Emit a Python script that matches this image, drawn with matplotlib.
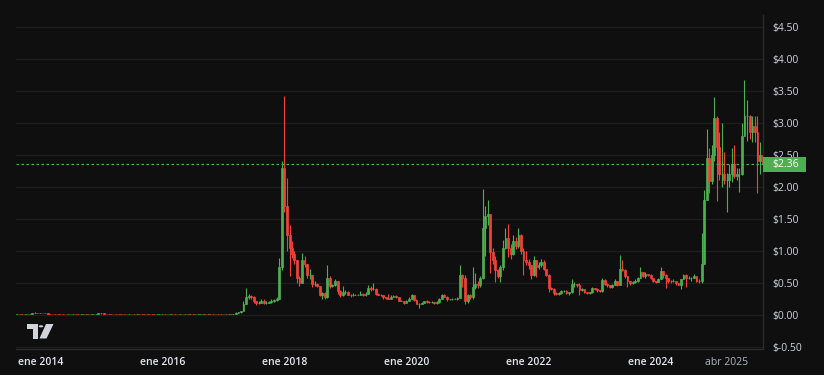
import numpy as np
import pandas as pd
import matplotlib
matplotlib.use('Agg')
from matplotlib import pyplot as plt
import matplotlib.dates as mdates
from matplotlib.patches import Polygon, Rectangle, Circle

# semi-monthly candles, Aug 2013 .. Nov 2025 (one row per year)
close = [
   0.0055, 0.0060, 0.0058, 0.0055, 0.0060, 0.0085, 0.012, 0.025, 0.030, 0.024,
   0.025, 0.025, 0.020, 0.017, 0.015, 0.013, 0.010, 0.0065, 0.0060, 0.0055, 0.0050, 0.0050,
   0.0055, 0.0060, 0.0055, 0.0050, 0.0050, 0.0060, 0.0070, 0.0058, 0.0060, 0.0080, 0.012, 0.024,
   0.020, 0.016, 0.014, 0.013, 0.012, 0.011, 0.010, 0.0085, 0.0080, 0.0075, 0.0085, 0.0095,
   0.0085, 0.0078, 0.0080, 0.0078, 0.0075, 0.0072, 0.0055, 0.0050, 0.0048, 0.0045, 0.0050, 0.0058,
   0.0060, 0.0058, 0.0075, 0.0085, 0.0080, 0.0070, 0.0068, 0.0070, 0.0062, 0.0065, 0.0062, 0.0064,
   0.0062, 0.0060, 0.0062, 0.0065, 0.0070, 0.0068, 0.0072, 0.0070, 0.0068, 0.0072, 0.0068, 0.0064,
   0.0065, 0.0063, 0.0063, 0.0060, 0.0075, 0.025, 0.035, 0.055, 0.17, 0.28, 0.29, 0.28,
   0.21, 0.19, 0.19, 0.22, 0.19, 0.19, 0.20, 0.21, 0.23, 0.25, 0.75, 2.30,
   1.70, 1.25, 1.05, 0.95, 0.85, 0.58, 0.50, 0.85, 0.80, 0.62, 0.62, 0.48,
   0.48, 0.45, 0.30, 0.34, 0.27, 0.58, 0.45, 0.46, 0.52, 0.37, 0.30, 0.35,
   0.36, 0.31, 0.30, 0.31, 0.31, 0.31, 0.33, 0.30, 0.33, 0.42, 0.40, 0.40,
   0.33, 0.31, 0.30, 0.27, 0.26, 0.25, 0.28, 0.29, 0.27, 0.22, 0.22, 0.19,
   0.22, 0.24, 0.30, 0.23, 0.17, 0.17, 0.18, 0.21, 0.20, 0.20, 0.20, 0.18,
   0.20, 0.25, 0.30, 0.28, 0.24, 0.24, 0.25, 0.25, 0.26, 0.62, 0.57, 0.22,
   0.30, 0.27, 0.43, 0.48, 0.46, 0.57, 1.35, 1.55, 1.58, 0.98, 0.85, 0.70,
   0.60, 0.75, 1.05, 1.20, 1.05, 0.95, 1.15, 1.08, 1.25, 1.00, 0.85, 0.83,
   0.78, 0.62, 0.85, 0.75, 0.78, 0.83, 0.72, 0.62, 0.42, 0.40, 0.34, 0.32,
   0.34, 0.37, 0.37, 0.34, 0.35, 0.48, 0.48, 0.46, 0.38, 0.40, 0.35, 0.34,
   0.35, 0.41, 0.40, 0.38, 0.37, 0.54, 0.48, 0.47, 0.43, 0.46, 0.52, 0.47,
   0.71, 0.70, 0.60, 0.52, 0.49, 0.51, 0.52, 0.57, 0.66, 0.61, 0.63, 0.62,
   0.57, 0.53, 0.51, 0.55, 0.68, 0.62, 0.57, 0.53, 0.52, 0.53, 0.49, 0.47,
   0.55, 0.62, 0.57, 0.57, 0.57, 0.61, 0.53, 0.52, 0.80, 1.80, 2.45, 2.09,
   2.50, 3.08, 2.62, 2.20, 2.20, 2.10, 2.10, 2.20, 2.35, 2.17, 2.20, 2.20,
   2.80, 3.10, 3.10, 2.85, 2.95, 2.85, 2.40, 2.50, 2.36,
]
high = [
   0.0060, 0.0065, 0.0062, 0.0060, 0.0065, 0.0095, 0.015, 0.030, 0.045, 0.032,
   0.028, 0.030, 0.026, 0.021, 0.018, 0.016, 0.013, 0.011, 0.0070, 0.0062, 0.0058, 0.0055,
   0.0058, 0.0065, 0.0062, 0.0057, 0.0055, 0.0065, 0.0075, 0.0072, 0.0065, 0.0090, 0.014, 0.030,
   0.026, 0.021, 0.017, 0.015, 0.014, 0.013, 0.012, 0.011, 0.0090, 0.0085, 0.0090, 0.011,
   0.0098, 0.0088, 0.0085, 0.0083, 0.0080, 0.0078, 0.0073, 0.0057, 0.0053, 0.0050, 0.0055, 0.0062,
   0.0064, 0.0063, 0.0080, 0.0092, 0.0088, 0.0082, 0.0072, 0.0073, 0.0071, 0.0068, 0.0066, 0.0067,
   0.0066, 0.0064, 0.0065, 0.0068, 0.0074, 0.0073, 0.0076, 0.0075, 0.0072, 0.0076, 0.0074, 0.0070,
   0.0070, 0.0068, 0.0066, 0.0065, 0.0090, 0.035, 0.040, 0.065, 0.22, 0.41, 0.33, 0.31,
   0.29, 0.22, 0.21, 0.25, 0.24, 0.22, 0.22, 0.24, 0.24, 0.27, 0.88, 2.40,
   3.41, 2.14, 1.40, 1.15, 1.00, 0.85, 0.60, 0.96, 0.92, 0.80, 0.72, 0.62,
   0.52, 0.50, 0.45, 0.36, 0.35, 0.77, 0.60, 0.48, 0.55, 0.53, 0.38, 0.45,
   0.39, 0.37, 0.32, 0.34, 0.32, 0.32, 0.37, 0.34, 0.36, 0.47, 0.45, 0.50,
   0.41, 0.34, 0.32, 0.30, 0.27, 0.32, 0.30, 0.31, 0.31, 0.27, 0.23, 0.22,
   0.23, 0.27, 0.33, 0.30, 0.25, 0.18, 0.20, 0.22, 0.23, 0.21, 0.21, 0.20,
   0.21, 0.26, 0.33, 0.32, 0.29, 0.25, 0.26, 0.26, 0.27, 0.78, 0.64, 0.62,
   0.33, 0.33, 0.75, 0.65, 0.52, 0.60, 1.96, 1.70, 1.80, 1.40, 1.05, 0.92,
   0.72, 0.77, 1.16, 1.35, 1.41, 1.10, 1.24, 1.21, 1.35, 1.26, 1.05, 1.00,
   0.87, 0.78, 0.91, 0.85, 0.82, 0.87, 0.85, 0.72, 0.63, 0.44, 0.42, 0.36,
   0.36, 0.39, 0.39, 0.38, 0.36, 0.56, 0.51, 0.48, 0.50, 0.41, 0.40, 0.36,
   0.36, 0.43, 0.42, 0.41, 0.39, 0.58, 0.55, 0.49, 0.47, 0.48, 0.56, 0.52,
   0.93, 0.85, 0.72, 0.60, 0.52, 0.52, 0.56, 0.59, 0.75, 0.67, 0.67, 0.64,
   0.63, 0.58, 0.53, 0.58, 0.74, 0.68, 0.64, 0.56, 0.54, 0.55, 0.53, 0.50,
   0.56, 0.64, 0.64, 0.61, 0.59, 0.64, 0.60, 0.55, 1.27, 1.95, 2.90, 2.60,
   2.65, 3.40, 3.10, 2.85, 3.00, 2.55, 2.22, 2.35, 2.60, 2.65, 2.30, 2.30,
   3.00, 3.66, 3.35, 3.12, 3.10, 3.10, 3.10, 2.70, 2.60,
]
low = [
   0.0050, 0.0054, 0.0055, 0.0052, 0.0054, 0.0058, 0.0085, 0.011, 0.022, 0.020,
   0.021, 0.022, 0.019, 0.016, 0.014, 0.012, 0.009, 0.0060, 0.0055, 0.0050, 0.0048, 0.0046,
   0.0048, 0.0053, 0.0050, 0.0048, 0.0046, 0.0048, 0.0058, 0.0055, 0.0055, 0.0058, 0.0078, 0.011,
   0.018, 0.015, 0.013, 0.012, 0.011, 0.010, 0.0095, 0.0080, 0.0075, 0.0070, 0.0072, 0.0082,
   0.0080, 0.0072, 0.0075, 0.0072, 0.0070, 0.0068, 0.0052, 0.0047, 0.0045, 0.0042, 0.0044, 0.0049,
   0.0056, 0.0055, 0.0057, 0.0072, 0.0075, 0.0068, 0.0065, 0.0066, 0.0060, 0.0060, 0.0059, 0.0060,
   0.0059, 0.0057, 0.0058, 0.0060, 0.0063, 0.0065, 0.0066, 0.0067, 0.0065, 0.0066, 0.0065, 0.0061,
   0.0060, 0.0060, 0.0058, 0.0055, 0.0058, 0.0070, 0.023, 0.033, 0.055, 0.16, 0.24, 0.25,
   0.19, 0.15, 0.17, 0.18, 0.17, 0.17, 0.18, 0.19, 0.20, 0.22, 0.24, 0.70,
   1.60, 1.00, 0.60, 0.88, 0.80, 0.50, 0.45, 0.50, 0.75, 0.58, 0.55, 0.43,
   0.45, 0.43, 0.29, 0.25, 0.25, 0.26, 0.42, 0.43, 0.45, 0.33, 0.28, 0.29,
   0.33, 0.30, 0.28, 0.29, 0.30, 0.30, 0.31, 0.29, 0.29, 0.33, 0.37, 0.38,
   0.31, 0.30, 0.29, 0.25, 0.25, 0.24, 0.24, 0.27, 0.26, 0.21, 0.21, 0.17,
   0.19, 0.21, 0.24, 0.22, 0.16, 0.11, 0.17, 0.18, 0.19, 0.19, 0.19, 0.17,
   0.17, 0.19, 0.25, 0.27, 0.22, 0.23, 0.23, 0.24, 0.23, 0.26, 0.44, 0.17,
   0.19, 0.25, 0.25, 0.40, 0.41, 0.43, 0.55, 0.92, 1.40, 0.65, 0.80, 0.51,
   0.58, 0.51, 0.70, 1.03, 0.90, 0.87, 0.93, 1.02, 1.05, 0.95, 0.62, 0.78,
   0.72, 0.55, 0.60, 0.59, 0.72, 0.75, 0.70, 0.60, 0.36, 0.38, 0.30, 0.30,
   0.31, 0.33, 0.36, 0.32, 0.31, 0.34, 0.44, 0.44, 0.31, 0.37, 0.34, 0.33,
   0.33, 0.34, 0.39, 0.36, 0.36, 0.36, 0.47, 0.43, 0.41, 0.42, 0.46, 0.45,
   0.47, 0.68, 0.58, 0.44, 0.47, 0.48, 0.49, 0.51, 0.57, 0.59, 0.58, 0.60,
   0.55, 0.51, 0.49, 0.51, 0.55, 0.58, 0.42, 0.50, 0.49, 0.51, 0.47, 0.46,
   0.40, 0.55, 0.43, 0.56, 0.53, 0.58, 0.51, 0.50, 0.50, 0.90, 1.80, 1.90,
   2.05, 2.40, 1.77, 2.10, 2.00, 2.05, 1.61, 2.00, 2.08, 2.13, 2.10, 1.91,
   2.19, 2.80, 2.72, 2.75, 2.70, 2.70, 1.90, 2.20, 2.15,
]
first_open = 0.0052
last_price = 2.36

price_ticks = [-0.5, 0.0, 0.5, 1.0, 1.5, 2.0, 2.5, 3.0, 3.5, 4.0, 4.5]
date_ticks = ['2014-01-01', '2016-01-01', '2018-01-01', '2020-01-01',
              '2022-01-01', '2024-01-01', '2025-04-01']
date_labels = ['ene 2014', 'ene 2016', 'ene 2018', 'ene 2020',
               'ene 2022', 'ene 2024', 'abr 2025']

BG = '#0f0f0f'
GRID = '#1d1d1d'
BORDER = '#2b2b2b'
TXT = '#d1d4dc'
UP = '#4caf50'
DOWN = '#f44336'

plt.rcParams['font.family'] = ['Open Sans', 'DejaVu Sans']

W, H = 824, 375
fig = plt.figure(figsize=(W / 100, H / 100), dpi=100, facecolor=BG)
ax = fig.add_axes([16 / W, 1 - 349 / H, (763 - 16) / W, (349 - 15) / H])
ax.set_facecolor(BG)

close = np.array(close)
high = np.array(high)
low = np.array(low)
opens = np.concatenate([[first_open], close[:-1]])
dates = pd.date_range('2013-08-01', periods=len(close), freq='SMS')
x = mdates.date2num(dates)
colors = np.where(close >= opens, UP, DOWN)

ax.vlines(x, low, high, colors=colors, linewidth=0.8, zorder=3)
ax.bar(x, np.abs(close - opens), bottom=np.minimum(close, opens), width=11,
       color=colors, edgecolor=colors, linewidth=0.5, zorder=3)

ax.axhline(last_price, color=UP, linewidth=0.9, linestyle=(0, (2, 2)), zorder=4)

ax.set_ylim(-0.536, 4.683)
ax.set_xlim(mdates.datestr2num('2013-08-09'), mdates.datestr2num('2025-11-03'))

ax.yaxis.tick_right()
ax.set_yticks(price_ticks)
ax.set_yticklabels([f'${v:.2f}' for v in price_ticks])
ax.grid(axis='y', color=GRID, linewidth=1)
ax.set_axisbelow(True)

ax.set_xticks(mdates.datestr2num(date_ticks))
ax.set_xticklabels(date_labels)
ax.tick_params(axis='both', length=0, labelsize=7.5, colors=TXT)
ax.tick_params(axis='y', pad=7)
ax.tick_params(axis='x', pad=6)
for lbl in ax.get_xticklabels():
   if lbl.get_text().startswith('ene'):
      lbl.set_fontweight('semibold')
      lbl.set_color('#e6e8ee')
   else:
      lbl.set_color('#b2b5be')

for side in ['top', 'left']:
   ax.spines[side].set_visible(False)
for side in ['right', 'bottom']:
   ax.spines[side].set_color(BORDER)
   ax.spines[side].set_linewidth(1)

# last price tag on the price scale
fig.add_artist(Rectangle((763 / W, 1 - 171.5 / H), 43 / W, 15 / H,
                         transform=fig.transFigure, facecolor=UP, edgecolor='none'))
fig.text(772 / W, 1 - 164 / H, f'${last_price:.2f}', color='white', fontsize=7.5,
         va='center', ha='left')

# tradingview mark
def px(pts):
   return [(a / W, 1 - b / H) for a, b in pts]

fig.add_artist(Polygon(px([(27, 324), (37.5, 324), (37.5, 338.5), (32.5, 338.5), (32.5, 328.5), (27, 328.5)]),
                       closed=True, transform=fig.transFigure, facecolor=TXT, edgecolor='none'))
fig.add_artist(Circle((41 / W, 1 - 326.3 / H), 2.3 / W, transform=fig.transFigure,
                      facecolor=TXT, edgecolor='none'))
fig.add_artist(Polygon(px([(46, 324), (53.5, 324), (46.5, 338.5), (39.5, 338.5)]),
                       closed=True, transform=fig.transFigure, facecolor=TXT, edgecolor='none'))

fig.savefig('out.png', dpi=100, facecolor=BG)
